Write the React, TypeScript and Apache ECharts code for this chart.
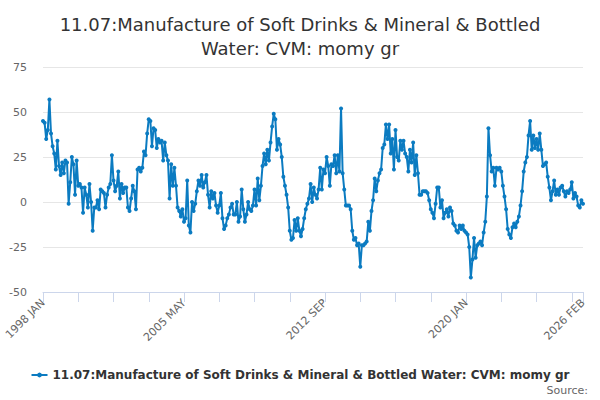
import React, { useEffect, useRef } from 'react';
import * as echarts from 'echarts';

const MONTHS = ['JAN','FEB','MAR','APR','MAY','JUN','JUL','AUG','SEP','OCT','NOV','DEC'];
const START_YEAR = 1998;
const SERIES_NAME = '11.07:Manufacture of Soft Drinks & Mineral & Bottled Water: CVM: momy gr';
const Y_TICKS = [-50, -25, 0, 25, 50, 75];

// monthly values, 1998 JAN .. 2026 FEB
const momyGrowth = [
  45, 44, 35, 40, 57, 38, 31, 27, 18, 34,
  20, 15, 22, 16, 23, 22, -1, 11, 25, 21,
  4, 23, 9, 10, 8, -6, 8, 4, -3, 10,
  0, -16, -3, -3, 1, -4, 7, 6, 5, -3,
  4, 8, 10, 26, 12, 6, 9, 17, 2, 10,
  5, 8, 8, -3, -5, 2, 9, 6, -4, 18,
  19, 17, 19, 28, 26, 38, 46, 45, 31, 41,
  40, 30, 35, 33, 34, 23, 33, 26, 23, 2,
  21, 9, 19, 9, -3, -5, -8, -4, -11, -9,
  12, -13, -17, 0, -5, -1, 6, 12, 9, 15,
  8, 11, 15, 4, -3, 6, 2, 5, -2, -6,
  -2, 5, -9, -15, -13, -9, -7, -3, -1, -7,
  -7, 0, -11, -8, 7, -4, -11, -7, 0, -4,
  -5, -2, 7, -2, 13, 1, 9, 20, 27, 21,
  29, 23, 33, 42, 49, 46, 29, 35, 32, 25,
  14, 9, 4, -3, -16, -21, -20, -10, -16, -9,
  -16, -19, -15, -9, -4, -1, 2, 10, 0, 8,
  4, 2, 7, 19, 7, 18, 16, 25, 20, 9,
  21, 20, 26, 16, 26, 17, 52, 16, 7, -2,
  -2, -2, -4, -16, -21, -20, -24, -23, -36, -24,
  -24, -23, -22, -11, -16, -5, 1, 13, 6, 12,
  16, 18, 30, 32, 43, 35, 43, 27, 35, 18,
  40, 25, 23, 34, 29, 34, 27, 25, 17, 29,
  22, 33, 15, 26, 16, 4, 4, 6, 6, 6,
  5, 1, -4, -6, -9, -1, 8, 8, -3, 1,
  -9, -6, -4, -8, -3, -5, -12, -13, -16, -17,
  -13, -15, -13, -16, -17, -18, -25, -42, -32, -20,
  -31, -24, -23, -22, -24, -17, -11, 3, 41, 26,
  17, 19, 9, 19, 18, 19, 17, 9, 3, -4,
  -15, -18, -20, -14, -12, -14, -11, -8, -2, 6,
  17, 22, 25, 37, 45, 29, 37, 30, 35, 29,
  38, 29, 20, 21, 22, 14, 8, 1, 6, 12,
  4, 7, 4, 8, 9, 6, 3, 6, 5, 7,
  11, 2, 5, 3, -2, -3, 1, -1,
];

const categories = momyGrowth.map((_, i) =>
  `${START_YEAR + Math.floor(i / 12)} ${MONTHS[i % 12]}`
);

const FONT = '"DejaVu Sans", Verdana, sans-serif';
const LINE_COLOR = '#0b7bc1';

export default function App() {
  const ref = useRef<HTMLDivElement>(null);

  useEffect(() => {
    if (!ref.current) return;
    const chart = echarts.init(ref.current, null, { renderer: 'svg' });
    const last = categories.length - 1;
    chart.setOption({
      animation: false,
      textStyle: { fontFamily: FONT },
      title: {
        text: '11.07:Manufacture of Soft Drinks & Mineral & Bottled\nWater: CVM: momy gr',
        left: 'center',
        top: 7,
        textStyle: { fontFamily: FONT, fontSize: 18, fontWeight: 'normal', color: '#333333', lineHeight: 24 },
      },
      grid: { left: 43, right: 17, top: 67, bottom: 108 },
      xAxis: {
        type: 'category',
        data: categories,
        boundaryGap: false,
        axisLine: { onZero: false, lineStyle: { color: '#ccd6eb' } },
        axisTick: {
          length: 10,
          lineStyle: { color: '#ccd6eb' },
          interval: (i: number) => i % 22 === 0 || i === last,
        },
        axisLabel: {
          rotate: 45,
          margin: 9,
          color: '#666666',
          fontSize: 11,
          fontFamily: FONT,
          interval: (i: number) => i % 88 === 0 || i === last,
        },
        splitLine: { show: false },
      },
      yAxis: {
        type: 'value',
        min: Y_TICKS[0],
        max: Y_TICKS[Y_TICKS.length - 1],
        interval: 25,
        axisLine: { show: false },
        axisTick: { show: false },
        axisLabel: { color: '#666666', fontSize: 11, fontFamily: FONT, margin: 16 },
        splitLine: { lineStyle: { color: '#e6e6e6' } },
      },
      legend: {
        left: 'center',
        top: 364,
        itemWidth: 16,
        itemHeight: 6,
        itemGap: 10,
        textStyle: { fontFamily: FONT, fontSize: 12, fontWeight: 'bold', color: '#333333' },
        data: [SERIES_NAME],
      },
      graphic: [
        {
          type: 'text',
          right: 12,
          top: 385,
          style: { text: 'Source:', fill: '#666666', font: `11px ${FONT}` },
        },
      ],
      series: [
        {
          name: SERIES_NAME,
          type: 'line',
          data: momyGrowth,
          color: LINE_COLOR,
          symbol: 'circle',
          symbolSize: 4,
          showAllSymbol: true,
          lineStyle: { width: 2, color: LINE_COLOR },
          itemStyle: { color: LINE_COLOR },
        },
      ],
    });
    return () => { chart.dispose(); };
  }, []);

  return (
    <div
      ref={ref}
      style={{ position: 'fixed', left: 0, top: 0, width: 600, height: 400, background: '#ffffff' }}
    />
  );
}
